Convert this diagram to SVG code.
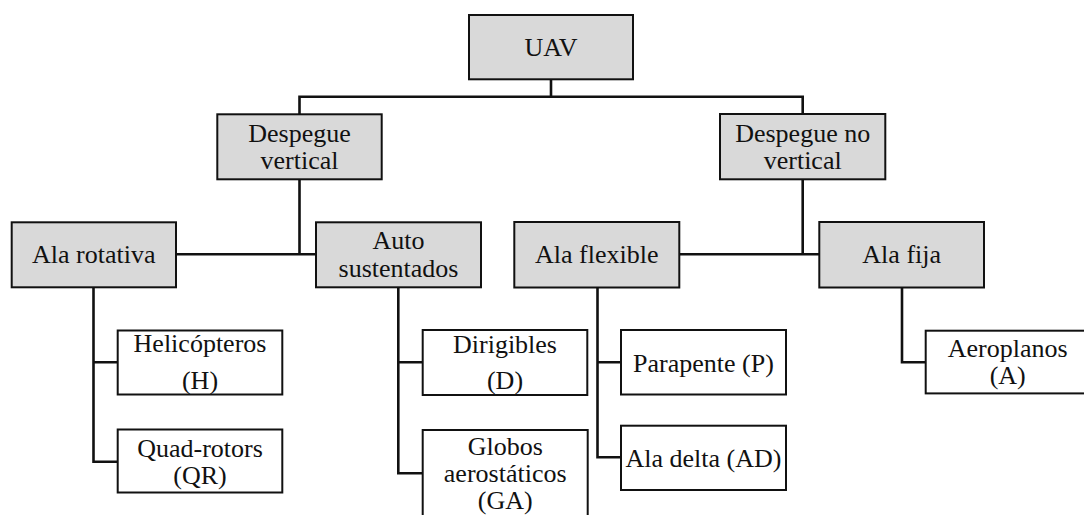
<svg xmlns="http://www.w3.org/2000/svg" width="1084" height="515" viewBox="0 0 1084 515">
<style>
.bg{fill:#ffffff}
.cat{fill:#d9d9d9;stroke:#111;stroke-width:2}
.leaf{fill:#ffffff;stroke:#111;stroke-width:2}
.lbl{font-family:"Liberation Serif","Times New Roman",serif;font-size:26px;fill:#111;text-anchor:middle}
.conn path{fill:none;stroke:#111;stroke-width:2.6;stroke-linejoin:miter;stroke-linecap:butt}
</style>
<rect class="bg" x="0" y="0" width="1084" height="515"/>
<g id="connectors" class="conn">
<path d="M551 79 V96.7 M299.5 114.3 V96.7 H802.7 V114"/>
<path d="M299.5 179.3 V254.3 M176 254.3 H316"/>
<path d="M802.7 179.3 V254.3 M679.3 254.3 H819.3"/>
<path d="M93.5 287.3 V461.7 H117.7 M93.5 362.3 H117.7"/>
<path d="M398.3 287.3 V473.3 H422.7 M398.3 362.3 H422.7"/>
<path d="M597.5 287.5 V457.3 H621 M597.5 362.3 H621"/>
<path d="M902 287.5 V362.3 H925.7"/>
</g>
<g id="uav">
<rect class="cat" x="469" y="15" width="164" height="64.3"/>
<text class="lbl" x="551" y="56">UAV</text>
</g>
<g id="despegue-vertical">
<rect class="cat" x="217.3" y="114.3" width="164.4" height="65"/>
<text class="lbl" x="299.5" y="141.5">Despegue</text>
<text class="lbl" x="299.5" y="168.5">vertical</text>
</g>
<g id="despegue-no-vertical">
<rect class="cat" x="720" y="114" width="165.3" height="65.3"/>
<text class="lbl" x="802.7" y="141.5">Despegue no</text>
<text class="lbl" x="802.7" y="168.5">vertical</text>
</g>
<g id="ala-rotativa">
<rect class="cat" x="11.7" y="222.3" width="164.3" height="65"/>
<text class="lbl" x="93.8" y="263.3">Ala rotativa</text>
</g>
<g id="auto-sustentados">
<rect class="cat" x="316" y="222.3" width="165" height="65"/>
<text class="lbl" x="398.5" y="249.3">Auto</text>
<text class="lbl" x="398.5" y="276.7">sustentados</text>
</g>
<g id="ala-flexible">
<rect class="cat" x="514.3" y="222" width="165" height="65.5"/>
<text class="lbl" x="596.8" y="263.3">Ala flexible</text>
</g>
<g id="ala-fija">
<rect class="cat" x="819.3" y="222" width="164.7" height="65.5"/>
<text class="lbl" x="901.7" y="263.3">Ala fija</text>
</g>
<g id="helicopteros">
<rect class="leaf" x="117.7" y="330.5" width="164.6" height="64"/>
<text class="lbl" x="200" y="352">Helicópteros</text>
<text class="lbl" x="200" y="388.5">(H)</text>
</g>
<g id="quad-rotors">
<rect class="leaf" x="117.7" y="429.5" width="164.6" height="63"/>
<text class="lbl" x="200" y="457">Quad-rotors</text>
<text class="lbl" x="200" y="484">(QR)</text>
</g>
<g id="dirigibles">
<rect class="leaf" x="422.7" y="330" width="164.6" height="65"/>
<text class="lbl" x="505" y="353">Dirigibles</text>
<text class="lbl" x="505" y="389">(D)</text>
</g>
<g id="globos">
<rect class="leaf" x="422.7" y="430" width="165" height="95"/>
<text class="lbl" x="505.2" y="455">Globos</text>
<text class="lbl" x="505.2" y="482">aerostáticos</text>
<text class="lbl" x="505.2" y="509">(GA)</text>
</g>
<g id="parapente">
<rect class="leaf" x="621" y="330" width="165" height="64.5"/>
<text class="lbl" x="703.5" y="371.7">Parapente (P)</text>
</g>
<g id="ala-delta">
<rect class="leaf" x="621" y="425.7" width="165" height="64.3"/>
<text class="lbl" x="703.5" y="466.5">Ala delta (AD)</text>
</g>
<g id="aeroplanos">
<rect class="leaf" x="925.7" y="330.7" width="164" height="62.7"/>
<text class="lbl" x="1007.7" y="356.5">Aeroplanos</text>
<text class="lbl" x="1007.7" y="383.5">(A)</text>
</g>
</svg>
